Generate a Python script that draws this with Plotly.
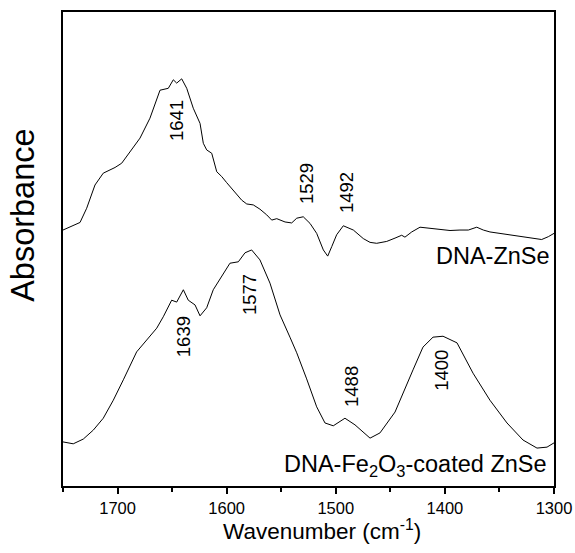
import plotly.graph_objects as go

# ---- data ----
wn_znse = [1750, 1742.0, 1734.4, 1728.3, 1720.7, 1713.1, 1702.3, 1696.2, 1688.6, 1679.4,
           1670.3, 1661.1, 1653.5, 1648.9, 1645.8, 1641.2, 1636.6, 1630.6, 1624.4, 1621.4,
           1618.3, 1613.7, 1609.1, 1604.6, 1600.0, 1593.9, 1586.2, 1581.6, 1575.6, 1569.5,
           1563.3, 1558.7, 1554.1, 1546.5, 1540.4, 1535.8, 1529.8, 1523.6, 1517.5, 1511.4,
           1507.4, 1503.7, 1499.2, 1493.1, 1483.9, 1474.8, 1468.6, 1462.5, 1459.5, 1453.3,
           1445.7, 1439.6, 1436.6, 1430.4, 1422.8, 1413.6, 1404.5, 1395.3, 1386.2, 1378.5,
           1370.8, 1364.8, 1358.7, 1349.5, 1340.3, 1331.2, 1322.0, 1311.3, 1305.2, 1300.0]
abs_znse = [0.540, 0.549, 0.556, 0.586, 0.635, 0.660, 0.672, 0.681, 0.705, 0.734,
            0.776, 0.835, 0.839, 0.857, 0.850, 0.859, 0.839, 0.797, 0.765, 0.723,
            0.709, 0.702, 0.663, 0.653, 0.640, 0.624, 0.603, 0.595, 0.593, 0.584,
            0.572, 0.561, 0.564, 0.557, 0.555, 0.565, 0.568, 0.554, 0.533, 0.498,
            0.485, 0.505, 0.530, 0.549, 0.540, 0.522, 0.514, 0.512, 0.513, 0.516,
            0.523, 0.529, 0.525, 0.536, 0.546, 0.544, 0.542, 0.539, 0.540, 0.540,
            0.546, 0.540, 0.536, 0.533, 0.529, 0.527, 0.524, 0.520, 0.526, 0.533]

wn_fe = [1750, 1740.6, 1731.4, 1722.2, 1713.1, 1703.9, 1694.7, 1682.5, 1673.3, 1664.1,
         1658.1, 1650.4, 1645.8, 1639.7, 1635.2, 1629.0, 1624.4, 1618.3, 1612.3, 1603.1,
         1597.0, 1589.3, 1583.2, 1577.1, 1569.5, 1560.3, 1551.1, 1542.0, 1535.8, 1526.7,
         1517.5, 1509.9, 1502.3, 1491.6, 1482.4, 1468.6, 1459.5, 1445.7, 1436.6, 1429.2,
         1420.1, 1410.9, 1401.7, 1388.9, 1374.2, 1358.7, 1343.1, 1328.4, 1315.6, 1306.4,
         1300.0]
abs_fe = [0.093, 0.089, 0.099, 0.118, 0.143, 0.181, 0.224, 0.283, 0.308, 0.333,
          0.357, 0.392, 0.388, 0.414, 0.392, 0.382, 0.359, 0.376, 0.414, 0.449,
          0.470, 0.473, 0.492, 0.498, 0.477, 0.428, 0.361, 0.314, 0.281, 0.226,
          0.167, 0.133, 0.127, 0.143, 0.129, 0.101, 0.112, 0.156, 0.203, 0.245,
          0.293, 0.314, 0.316, 0.302, 0.238, 0.181, 0.133, 0.097, 0.080, 0.082,
          0.091]

peak_labels = ["1641", "1529", "1492", "1639", "1577", "1488", "1400"]
peak_label_x = [1646.4, 1527.3, 1490.6, 1640.0, 1578.6, 1485.1, 1402.6]
peak_label_y = [0.770, 0.639, 0.618, 0.314, 0.403, 0.209, 0.243]

series_names = ["DNA-ZnSe", "DNA-Fe<sub>2</sub>O<sub>3</sub>-coated ZnSe"]
xtick_vals = [1700, 1600, 1500, 1400, 1300]

FONT = "Arial, Liberation Sans, sans-serif"

fig = go.Figure()
fig.add_trace(go.Scatter(x=wn_znse, y=abs_znse, mode="lines",
                         line=dict(color="black", width=1), showlegend=False))
fig.add_trace(go.Scatter(x=wn_fe, y=abs_fe, mode="lines",
                         line=dict(color="black", width=1), showlegend=False))

annotations = []
for t, x, y in zip(peak_labels, peak_label_x, peak_label_y):
    annotations.append(dict(text=t, x=x, y=y, xref="x", yref="y", showarrow=False,
                            textangle=-90, font=dict(size=18.5, color="black", family=FONT),
                            xanchor="center", yanchor="middle"))

annotations.append(dict(text=series_names[0], x=1301.5, y=0.485, xref="x", yref="y",
                        showarrow=False, xanchor="right", yanchor="middle",
                        font=dict(size=23.5, color="black", family=FONT)))
annotations.append(dict(text=series_names[1], x=1305.0, y=0.044, xref="x", yref="y",
                        showarrow=False, xanchor="right", yanchor="middle",
                        font=dict(size=23.5, color="black", family=FONT)))

annotations.append(dict(text="Wavenumber (cm<sup>-1</sup>)", x=0.5285, y=-0.093,
                        xref="paper", yref="paper", showarrow=False,
                        xanchor="center", yanchor="middle",
                        font=dict(size=22.5, color="black", family=FONT)))
annotations.append(dict(text="Absorbance", x=-0.0815, y=0.572,
                        xref="paper", yref="paper", showarrow=False, textangle=-90,
                        xanchor="center", yanchor="middle",
                        font=dict(size=32.5, color="black", family=FONT)))

fig.update_layout(
    width=575, height=553,
    margin=dict(l=63, r=21, t=12, b=67, autoexpand=False),
    paper_bgcolor="white", plot_bgcolor="white",
    font=dict(family=FONT, color="black"),
    annotations=annotations,
    xaxis=dict(range=[1750, 1300], tickvals=xtick_vals, automargin=False,
               ticks="outside", ticklen=6, tickwidth=1.5, tickcolor="black",
               minor=dict(ticks="outside", ticklen=4, tickwidth=1.5, dtick=50,
                          tick0=1300, tickcolor="black", showgrid=False),
               showline=True, linewidth=2, linecolor="black", mirror=True,
               showgrid=False, zeroline=False,
               tickfont=dict(size=16.5, color="black", family=FONT)),
    yaxis=dict(range=[0, 1], showticklabels=False, ticks="", automargin=False,
               showline=True, linewidth=2, linecolor="black", mirror=True,
               showgrid=False, zeroline=False),
)

fig.write_html("out.html")
